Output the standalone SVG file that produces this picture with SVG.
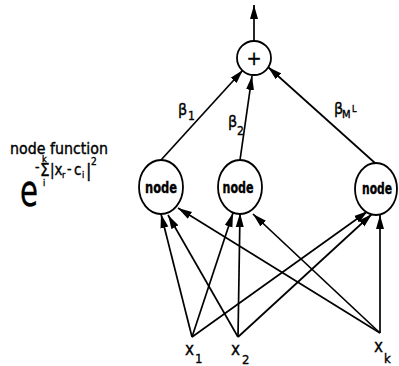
<svg xmlns="http://www.w3.org/2000/svg" width="399" height="366" viewBox="0 0 399 366">
<style>
.t{font-family:"DejaVu Sans Condensed","DejaVu Sans","Liberation Sans",sans-serif;font-stretch:condensed;fill:#000;stroke:#000;stroke-width:0.35}
.n{fill:#fff;stroke:#000;stroke-width:1.8}
.c line{stroke:#000;stroke-width:1.7;marker-end:url(#ah)}
</style>
<defs>
<marker id="ah" markerUnits="userSpaceOnUse" markerWidth="15" markerHeight="9" refX="14" refY="4.5" orient="auto">
<path d="M0,0.5 L14,4.5 L0,8.5 Z" fill="#000"/>
</marker>
</defs>
<rect width="399" height="366" fill="#fff"/>
<g id="connectors" class="c">
<line x1="254" y1="40" x2="254" y2="5"/>
<line x1="161" y1="160" x2="243" y2="70"/>
<line x1="240" y1="160" x2="252" y2="76"/>
<line x1="375" y1="163" x2="268" y2="67"/>
<line x1="192" y1="337" x2="161" y2="214"/>
<line x1="192" y1="337" x2="233" y2="213"/>
<line x1="192" y1="337" x2="368" y2="211"/>
<line x1="238" y1="337" x2="168" y2="215"/>
<line x1="238" y1="337" x2="240" y2="213"/>
<line x1="238" y1="337" x2="372" y2="214"/>
<line x1="380" y1="333" x2="178" y2="208"/>
<line x1="380" y1="333" x2="253" y2="214"/>
<line x1="380" y1="333" x2="380" y2="215"/>
</g>
<g id="sum">
<ellipse class="n" cx="254" cy="58" rx="17" ry="17"/>
<text class="t" x="254" y="65" font-size="20" text-anchor="middle">+</text>
</g>
<g id="node1">
<ellipse class="n" cx="161" cy="187" rx="22" ry="27"/>
<text class="t" x="161" y="193" font-size="15" font-weight="bold" text-anchor="middle" textLength="32" lengthAdjust="spacingAndGlyphs">node</text>
</g>
<g id="node2">
<ellipse class="n" cx="240" cy="187" rx="22" ry="27"/>
<text class="t" x="238" y="193" font-size="15" font-weight="bold" text-anchor="middle" textLength="31" lengthAdjust="spacingAndGlyphs">node</text>
</g>
<g id="node3">
<ellipse class="n" cx="376" cy="189" rx="21" ry="26"/>
<text class="t" x="377" y="194" font-size="15" font-weight="bold" text-anchor="middle" textLength="30" lengthAdjust="spacingAndGlyphs">node</text>
</g>
<g id="weights" class="t">
<text x="178" y="115" font-size="16">β</text>
<text x="188" y="120" font-size="12">1</text>
<text x="228" y="127" font-size="16">β</text>
<text x="237" y="135" font-size="12">2</text>
<text x="334" y="114" font-size="16">β</text>
<text x="342" y="118" font-size="11">M</text>
<text x="352" y="112" font-size="9">L</text>
</g>
<g id="inputs" class="t">
<text x="185" y="355" font-size="17">x</text>
<text x="195" y="363" font-size="13">1</text>
<text x="231" y="355" font-size="17">x</text>
<text x="242" y="364" font-size="13">2</text>
<text x="374" y="352" font-size="17">x</text>
<text x="384" y="363" font-size="13">k</text>
</g>
<g id="legend" class="t">
<text x="10" y="154" font-size="15" textLength="98" lengthAdjust="spacingAndGlyphs">node function</text>
<text x="20" y="206" font-size="44" textLength="18" lengthAdjust="spacingAndGlyphs">e</text>
<text x="35" y="172" font-size="14">-</text>
<text x="40" y="176" font-size="17">Σ</text>
<text x="42" y="162" font-size="9">k</text>
<text x="43" y="186" font-size="9">i</text>
<text x="50" y="175" font-size="15">|x</text>
<text x="62" y="178" font-size="9">r</text>
<text x="67" y="174" font-size="14">-</text>
<text x="74" y="175" font-size="15">c</text>
<text x="82" y="178" font-size="9">i</text>
<text x="86" y="177" font-size="18">|</text>
<text x="91" y="165" font-size="10">2</text>
</g>
</svg>
